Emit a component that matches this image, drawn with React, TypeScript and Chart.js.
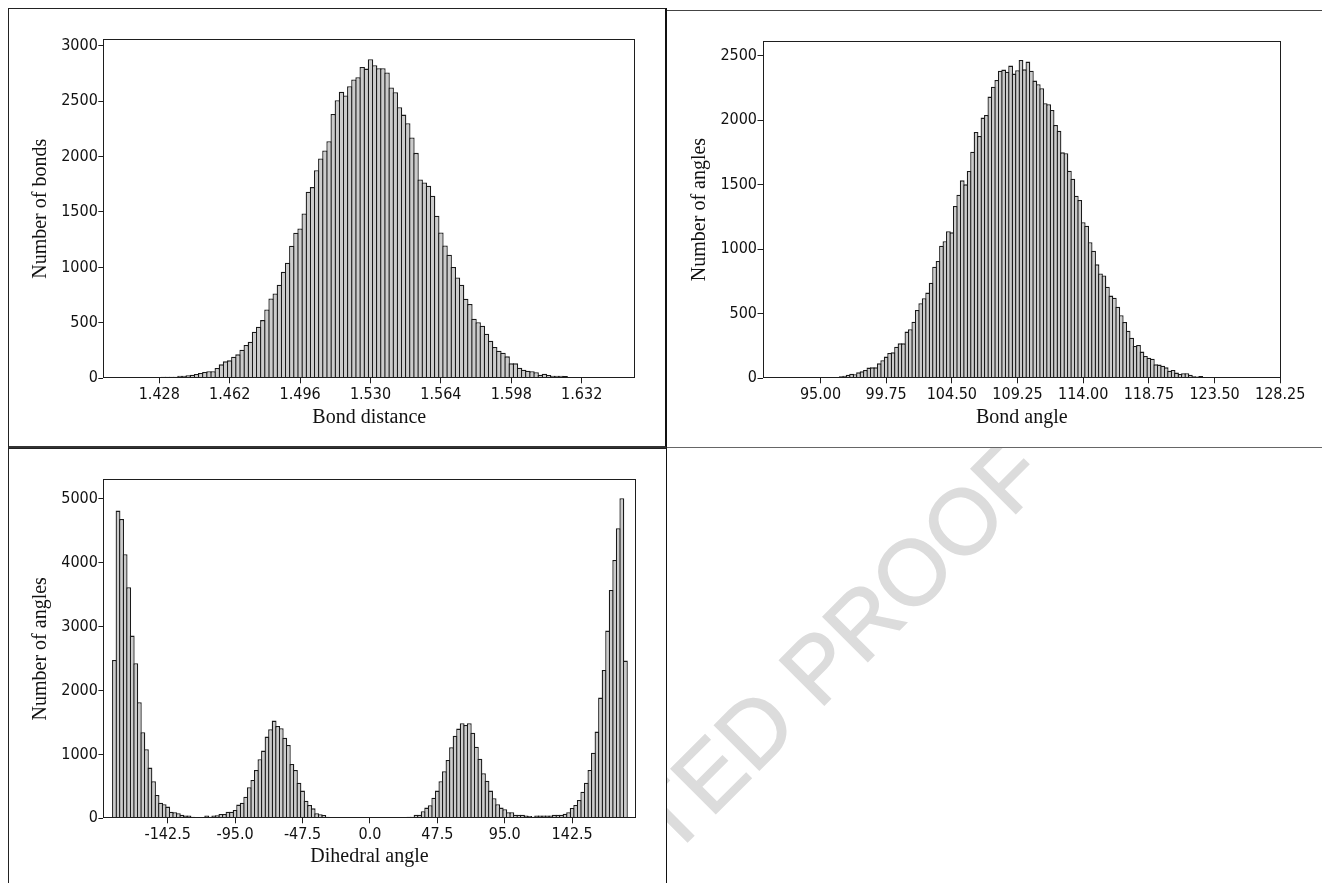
import React, { useEffect, useRef } from "react";
import { Chart, registerables } from "chart.js";

Chart.register(...registerables);

// ---------- Bond distance histogram (bin centres from 1.406, width 0.002) ----------
const DIST_BIN_START = 1.406;
const DIST_BIN_WIDTH = 0.002;
const DIST_COUNTS = [
  2, 2, 2, 2, 2, 2, 2, 2, 2, 2, 2,
  5,
  15, 15, 15, 15, 24, 24, 27, 33, 39, 48, 57, 63, 63, 93, 126, 153, 162, 195, 216, 258,
  300, 330, 420, 465, 525, 621, 720, 765, 843, 960, 1042, 1195, 1312, 1351, 1486, 1682,
  1724, 1877, 1982, 2054, 2138, 2384, 2508, 2583, 2550, 2634, 2694, 2715, 2808, 2793, 2877,
  2823, 2796, 2796, 2757, 2622, 2580, 2445, 2378, 2300, 2171, 2033, 1793, 1766, 1736, 1646,
  1466, 1315, 1198, 1114, 1003, 910, 844, 718, 670, 538, 505, 475, 402, 339, 282, 249, 231,
  198, 135, 135, 96, 78, 69, 63, 54, 33, 42, 30, 24, 24, 24, 21, 12,
  2, 2, 2, 2, 2, 2, 2, 2, 2, 2, 2, 2, 2, 2,
];
const DIST_X_TICKS = [1.428, 1.462, 1.496, 1.53, 1.564, 1.598, 1.632];
const DIST_X_LABELS = ["1.428", "1.462", "1.496", "1.530", "1.564", "1.598", "1.632"];
const DIST_Y_TICKS = [0, 500, 1000, 1500, 2000, 2500, 3000];

// ---------- Bond angle histogram (bin centres from 91.5, width 0.25) ----------
const ANGLE_BIN_START = 91.5;
const ANGLE_BIN_WIDTH = 0.25;
const ANGLE_COUNTS = [
  2, 2, 2, 2, 2, 2, 2, 2, 2, 2, 2, 2, 2, 2,
  8, 8, 8, 8, 8, 8,
  15, 20, 28, 36, 31, 46, 54, 65, 83, 85, 85, 116, 140, 168, 196, 201, 245, 271, 271, 362,
  380, 439, 530, 581, 620, 664, 741, 865, 909, 1028, 1062, 1139, 1131, 1335, 1423, 1534,
  1503, 1607, 1756, 1909, 1878, 2020, 2041, 2183, 2260, 2312, 2384, 2392, 2376, 2423, 2361,
  2387,
  2467, 2394, 2454, 2384, 2307, 2278, 2247, 2131, 2123, 2079, 1963, 1919, 1751, 1744, 1609,
  1547, 1415, 1382, 1209, 1183, 1054, 989, 883, 813, 796, 710, 641, 625, 555, 488, 437, 369,
  315, 251, 258, 207, 173, 160, 152, 108, 106, 98, 85, 59, 65, 44, 34, 39, 39, 28, 15, 13,
  18, 10, 8, 5, 10, 10, 8, 8, 10,
  2, 2, 2, 2, 2, 2, 2, 2, 2, 2, 2, 2,
];
const ANGLE_X_TICKS = [95, 99.75, 104.5, 109.25, 114, 118.75, 123.5, 128.25];
const ANGLE_X_LABELS = ["95.00", "99.75", "104.50", "109.25", "114.00", "118.75", "123.50", "128.25"];
const ANGLE_Y_TICKS = [0, 500, 1000, 1500, 2000, 2500];

// ---------- Dihedral angle histogram (bin centres from -180, width 2.5) ----------
const DIHEDRAL_BIN_START = -180;
const DIHEDRAL_BIN_WIDTH = 2.5;
const DIHEDRAL_COUNTS = [
  2477, 4813, 4683, 4130, 3614, 2858, 2425, 1815, 1345, 1080, 793, 579, 365, 245, 219, 183,
  104, 94, 78, 57, 42, 42, 26, 21, 21, 21, 42, 26, 42, 47, 68, 68, 104, 104, 130, 214, 245,
  339, 485, 600, 756, 923, 1059, 1278, 1392, 1528, 1445, 1408, 1262, 1147, 850, 756, 558,
  433, 276, 209, 156, 78, 63, 52, 26, 21,
  3, 3, 3, 3, 3, 3, 3, 3, 3, 3, 3, 3, 3, 3, 3, 3, 3, 3, 3,
  21, 10, 26, 26, 57, 57, 110, 167, 203, 323, 433, 579, 735, 913, 1111, 1293, 1403, 1486,
  1460, 1486, 1340, 1121, 933, 704, 589, 433, 313, 219, 167, 141, 94, 94, 57, 57, 57, 42,
  37, 26, 42, 42, 42, 42, 42, 57, 57, 57, 73, 94, 162, 209, 287, 417, 558, 756, 1027, 1356,
  1888, 2321, 2936, 3572, 4042, 4537, 5006, 2467,
];
const DIHEDRAL_X_TICKS = [-142.5, -95, -47.5, 0, 47.5, 95, 142.5];
const DIHEDRAL_X_LABELS = ["-142.5", "-95.0", "-47.5", "0.0", "47.5", "95.0", "142.5"];
const DIHEDRAL_Y_TICKS = [0, 1000, 2000, 3000, 4000, 5000];

// ---------- styling ----------
const BAR_FILL = "#cbcbcb";
const BAR_EDGE = "#1a1a1a";
const BAR_EDGE_WIDTH = 1.3;
const AXIS_COLOR = "#1e1e1e";
const TICK_FONT = '"DejaVu Sans Condensed", "DejaVu Sans", sans-serif';
const TITLE_FONT = '"Liberation Serif", "Times New Roman", serif';

type Rect = { left: number; top: number; width: number; height: number };
type Area = { left: number; top: number; right: number; bottom: number };

type PanelSpec = {
  counts: number[];
  binStart: number;
  binWidth: number;
  xMin: number;
  xMax: number;
  yMax: number;
  xTicks: number[];
  xLabels: string[];
  yTicks: number[];
  xTitle: string;
  yTitle: string;
  canvas: Rect;
  area: Area;
  xTitleY: number;
  yTitleX: number;
};

const PANELS: PanelSpec[] = [
  {
    counts: DIST_COUNTS,
    binStart: DIST_BIN_START,
    binWidth: DIST_BIN_WIDTH,
    xMin: 1.40096,
    xMax: 1.65789,
    yMax: 3057,
    xTicks: DIST_X_TICKS,
    xLabels: DIST_X_LABELS,
    yTicks: DIST_Y_TICKS,
    xTitle: "Bond distance",
    yTitle: "Number of bonds",
    canvas: { left: 10, top: 10, width: 655, height: 434 },
    area: { left: 103.3, top: 39.3, right: 635.3, bottom: 378.3 },
    xTitleY: 417.3,
    yTitleX: 40.3,
  },
  {
    counts: ANGLE_COUNTS,
    binStart: ANGLE_BIN_START,
    binWidth: ANGLE_BIN_WIDTH,
    xMin: 90.805,
    xMax: 128.32,
    yMax: 2616,
    xTicks: ANGLE_X_TICKS,
    xLabels: ANGLE_X_LABELS,
    yTicks: ANGLE_Y_TICKS,
    xTitle: "Bond angle",
    yTitle: "Number of angles",
    canvas: { left: 669, top: 12, width: 651, height: 434 },
    area: { left: 762.5, top: 40.7, right: 1281.2, bottom: 378.3 },
    xTitleY: 417.3,
    yTitleX: 699.8,
  },
  {
    counts: DIHEDRAL_COUNTS,
    binStart: DIHEDRAL_BIN_START,
    binWidth: DIHEDRAL_BIN_WIDTH,
    xMin: -187.8,
    xMax: 187.2,
    yMax: 5303,
    xTicks: DIHEDRAL_X_TICKS,
    xLabels: DIHEDRAL_X_LABELS,
    yTicks: DIHEDRAL_Y_TICKS,
    xTitle: "Dihedral angle",
    yTitle: "Number of angles",
    canvas: { left: 10, top: 450, width: 655, height: 433 },
    area: { left: 103.4, top: 479.3, right: 635.6, bottom: 818.3 },
    xTitleY: 856.3,
    yTitleX: 40.3,
  },
];

// Closed box around the plotting region
const plotFrame = {
  id: "plotFrame",
  afterDatasetsDraw(chart: any) {
    const { ctx, chartArea } = chart;
    const x0 = Math.round(chartArea.left) + 0.5;
    const y0 = Math.round(chartArea.top) + 0.5;
    const x1 = Math.round(chartArea.right) - 0.5;
    const y1 = Math.round(chartArea.bottom) - 0.5;
    ctx.save();
    ctx.strokeStyle = AXIS_COLOR;
    ctx.lineWidth = 1;
    ctx.strokeRect(x0, y0, x1 - x0, y1 - y0);
    ctx.restore();
  },
};

function Histogram({ spec }: { spec: PanelSpec }) {
  const ref = useRef<HTMLCanvasElement | null>(null);

  useEffect(() => {
    const c = spec.canvas;
    const a = spec.area;
    const titleHalf = 12; // half of the 20px * 1.2 title line height
    const xScaleHeight = spec.xTitleY + titleHalf - a.bottom;
    const yScaleWidth = a.left - c.left;
    const binPx = (spec.binWidth / (spec.xMax - spec.xMin)) * (a.right - a.left);
    const points = spec.counts.map((y, i) => ({ x: spec.binStart + i * spec.binWidth, y }));

    const chart = new Chart(ref.current as HTMLCanvasElement, {
      type: "bar",
      data: {
        datasets: [
          {
            data: points as any,
            backgroundColor: BAR_FILL,
            borderColor: BAR_EDGE,
            borderWidth: BAR_EDGE_WIDTH,
            borderSkipped: "start",
            // neighbouring outlines overlap so that shared edges stay one line wide
            barPercentage: (binPx + BAR_EDGE_WIDTH) / binPx,
            categoryPercentage: 1,
            minBarLength: 1.2,
          },
        ],
      },
      options: {
        animation: false,
        responsive: false,
        events: [],
        layout: {
          padding: {
            left: 0,
            top: a.top - c.top,
            right: c.left + c.width - a.right,
            bottom: c.top + c.height - a.bottom - xScaleHeight,
          },
        },
        plugins: {
          legend: { display: false },
          tooltip: { enabled: false },
        },
        scales: {
          x: {
            type: "linear",
            min: spec.xMin,
            max: spec.xMax,
            offset: false,
            grid: {
              display: true,
              offset: false,
              drawOnChartArea: false,
              drawTicks: true,
              tickLength: 5,
              color: AXIS_COLOR,
              lineWidth: 1,
            },
            border: { display: false },
            ticks: {
              autoSkip: false,
              maxRotation: 0,
              minRotation: 0,
              padding: 2.3,
              color: "#111",
              font: { family: TICK_FONT, size: 16 },
              callback: (_v: any, i: number) => spec.xLabels[i],
            },
            afterBuildTicks: (s: any) => {
              s.ticks = spec.xTicks.map((v) => ({ value: v }));
            },
            afterFit: (s: any) => {
              s.height = xScaleHeight;
            },
            title: {
              display: true,
              text: spec.xTitle,
              color: "#111",
              font: { family: TITLE_FONT, size: 20, lineHeight: 1.2 },
              padding: { top: 0, bottom: 0 },
            },
          },
          y: {
            type: "linear",
            min: 0,
            max: spec.yMax,
            grid: {
              display: true,
              drawOnChartArea: false,
              drawTicks: true,
              tickLength: 5,
              color: AXIS_COLOR,
              lineWidth: 1,
            },
            border: { display: false },
            ticks: {
              padding: 0.5,
              color: "#111",
              font: { family: TICK_FONT, size: 16 },
              callback: (_v: any, i: number) => String(spec.yTicks[i]),
            },
            afterBuildTicks: (s: any) => {
              s.ticks = spec.yTicks.map((v) => ({ value: v }));
            },
            afterFit: (s: any) => {
              s.width = yScaleWidth;
            },
            title: {
              display: true,
              text: spec.yTitle,
              color: "#111",
              font: { family: TITLE_FONT, size: 20, lineHeight: 1.2 },
              padding: { top: spec.yTitleX - c.left - titleHalf, bottom: 0 },
            },
          },
        },
      } as any,
      plugins: [plotFrame],
    });

    return () => chart.destroy();
  }, [spec]);

  const c = spec.canvas;
  return (
    <canvas
      ref={ref}
      width={c.width}
      height={c.height}
      style={{ position: "absolute", left: c.left, top: c.top, width: c.width, height: c.height }}
    />
  );
}

const boxBase: React.CSSProperties = {
  position: "absolute",
  boxSizing: "border-box",
  background: "#fff",
};

export default function App() {
  return (
    <div
      style={{
        position: "fixed",
        left: 0,
        top: 0,
        width: 1322,
        height: 883,
        overflow: "hidden",
        background: "#fff",
      }}
    >
      <div
        style={{
          position: "absolute",
          left: 650,
          top: 834,
          transform: "translate(-50%, -50%) rotate(-45deg)",
          fontFamily: '"Liberation Sans", Arial, sans-serif',
          fontSize: 92,
          lineHeight: 1,
          color: "#dcdcdc",
          WebkitTextStroke: "1.5px #dcdcdc",
          whiteSpace: "nowrap",
        }}
      >
        UNCORRECTED PROOF
      </div>

      <div
        style={{
          ...boxBase,
          left: 8,
          top: 8,
          width: 659,
          height: 440,
          borderTop: "1px solid #222",
          borderLeft: "1px solid #222",
          borderRight: "2px solid #111",
          borderBottom: "2px solid #333",
        }}
      />
      <div
        style={{
          ...boxBase,
          left: 667,
          top: 10,
          width: 700,
          height: 438,
          borderTop: "1px solid #444",
          borderBottom: "1px solid #666",
        }}
      />
      <div
        style={{
          ...boxBase,
          left: 8,
          top: 448,
          width: 659,
          height: 470,
          borderTop: "1px solid #222",
          borderLeft: "1px solid #222",
          borderRight: "1px solid #111",
        }}
      />

      {PANELS.map((p, i) => (
        <Histogram key={i} spec={p} />
      ))}
    </div>
  );
}
